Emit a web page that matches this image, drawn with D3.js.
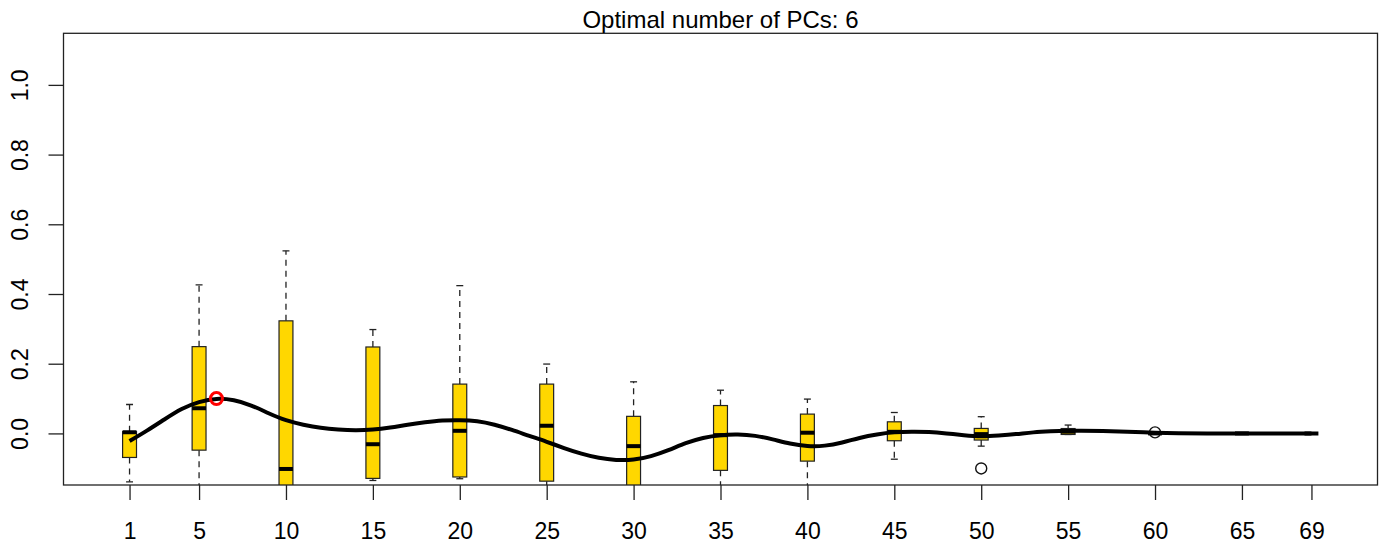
<!DOCTYPE html>
<html>
<head>
<meta charset="utf-8">
<script src="https://cdn.jsdelivr.net/npm/d3@7"></script>
<style>
body { margin: 0; background: #fff; }
text { font-family: "Liberation Sans", Arial, sans-serif; fill: #000; }
</style>
</head>
<body>
<script>
// box positions (number of PCs) and five-number summaries
var positions = [1, 5, 10, 15, 20, 25, 30, 35, 40, 45, 50, 55, 60, 65, 69];
var whiskLo = [-0.139, -0.2, -0.3, -0.135, -0.13, -0.17, -0.25, -0.17, -0.16, -0.074, -0.0365, -0.003, 0, 0, 0];
var q1      = [-0.069, -0.048, -0.2, -0.129, -0.125, -0.137, -0.18, -0.106, -0.0795, -0.021, -0.019, -0.003, 0, 0, 0];
var med     = [0.003, 0.072, -0.102, -0.031, 0.0075, 0.022, -0.0365, -0.005, 0.002, 0.0046, -0.002, 0.005, 0, 0, 0];
var q3      = [0.005, 0.249, 0.323, 0.248, 0.1415, 0.1415, 0.049, 0.080, 0.0554, 0.0333, 0.0143, 0.014, 0, 0, 0];
var whiskHi = [0.083, 0.426, 0.524, 0.298, 0.424, 0.199, 0.148, 0.124, 0.0985, 0.060, 0.048, 0.024, 0, 0, 0];

// outliers
var outX = [50, 60];
var outY = [-0.1005, 0.003];

// smoothed curve
var curveX = [1, 2, 3, 4, 5, 6, 7, 8, 9, 10, 11, 12, 13, 14, 15, 16, 17, 18, 19, 20,
              21, 22, 23, 24, 25, 26, 27, 28, 29, 30, 31, 32, 33, 34, 35, 36, 37, 38, 39, 40,
              41, 42, 43, 44, 45, 46, 47, 48, 49, 50, 51, 52, 53, 54, 55, 57, 60, 63, 66, 69];
var curveY = [-0.022, 0.008, 0.04, 0.07, 0.09, 0.099, 0.095, 0.08, 0.058, 0.038, 0.025, 0.016, 0.011, 0.009, 0.011, 0.017, 0.025, 0.032, 0.037, 0.038,
              0.035, 0.025, 0.01, -0.007, -0.024, -0.042, -0.058, -0.07, -0.076, -0.075, -0.065, -0.048, -0.028, -0.013, -0.005, -0.003, -0.007, -0.017, -0.029, -0.036,
              -0.035, -0.026, -0.013, -0.003, 0.003, 0.005, 0.004, 0.0, -0.005, -0.008, -0.006, -0.002, 0.003, 0.006, 0.0075, 0.007, 0.002, 0.0, 0.0, 0.0];

// optimum
var optX = [6];
var optY = [0.1];

var xTicks = [1, 5, 10, 15, 20, 25, 30, 35, 40, 45, 50, 55, 60, 65, 69];
var yTicks = [0, 0.2, 0.4, 0.6, 0.8, 1.0];
var title = "Optimal number of PCs: 6";

var width = 1385, height = 548;
var pLeft = 63.5, pRight = 1377.5, pTop = 33.3, pBottom = 485;

var x = d3.scaleLinear().domain([-2.8, 72.8]).range([pLeft, pRight]);
var y = d3.scaleLinear().domain([-0.148, 1.148]).range([pBottom, pTop]);

var boxW = x(0.8) - x(0),
    capW = x(0.4) - x(0);

var boxes = positions.map(function(p, i) {
  return {at: p, lo: whiskLo[i], q1: q1[i], med: med[i], q3: q3[i], hi: whiskHi[i]};
});

var svg = d3.select('body')
            .append('svg')
            .attr('width', width)
            .attr('height', height);

svg.append('clipPath')
   .attr('id', 'plotclip')
   .append('rect')
   .attr('x', pLeft)
   .attr('y', pTop)
   .attr('width', pRight - pLeft)
   .attr('height', pBottom - pTop);

var plot = svg.append('g').attr('clip-path', 'url(#plotclip)');

var bx = plot.selectAll('g.box')
   .data(boxes)
   .enter()
   .append('g')
   .attr('class', 'box');

// whiskers
bx.append('line')
  .attr('x1', function(d){ return x(d.at); })
  .attr('x2', function(d){ return x(d.at); })
  .attr('y1', function(d){ return y(d.q3); })
  .attr('y2', function(d){ return y(d.hi); })
  .attr('stroke', '#222')
  .attr('stroke-width', 1.3)
  .attr('stroke-dasharray', '6,5');

bx.append('line')
  .attr('x1', function(d){ return x(d.at); })
  .attr('x2', function(d){ return x(d.at); })
  .attr('y1', function(d){ return y(d.q1); })
  .attr('y2', function(d){ return y(d.lo); })
  .attr('stroke', '#222')
  .attr('stroke-width', 1.3)
  .attr('stroke-dasharray', '6,5');

// staples
['hi', 'lo'].forEach(function(k) {
  bx.append('line')
    .attr('x1', function(d){ return x(d.at) - capW / 2; })
    .attr('x2', function(d){ return x(d.at) + capW / 2; })
    .attr('y1', function(d){ return y(d[k]); })
    .attr('y2', function(d){ return y(d[k]); })
    .attr('stroke', '#222')
    .attr('stroke-width', 1.3);
});

// boxes
bx.append('rect')
  .attr('x', function(d){ return x(d.at) - boxW / 2; })
  .attr('y', function(d){ return y(d.q3); })
  .attr('width', boxW)
  .attr('height', function(d){ return y(d.q1) - y(d.q3); })
  .attr('fill', '#FFD700')
  .attr('stroke', '#222')
  .attr('stroke-width', 1.2);

// medians
bx.append('line')
  .attr('x1', function(d){ return x(d.at) - boxW / 2; })
  .attr('x2', function(d){ return x(d.at) + boxW / 2; })
  .attr('y1', function(d){ return y(d.med); })
  .attr('y2', function(d){ return y(d.med); })
  .attr('stroke', '#000')
  .attr('stroke-width', 4);

// outliers
plot.selectAll('circle.out')
    .data(outX)
    .enter()
    .append('circle')
    .attr('class', 'out')
    .attr('cx', function(d){ return x(d); })
    .attr('cy', function(d, i){ return y(outY[i]); })
    .attr('r', 5.5)
    .attr('fill', 'none')
    .attr('stroke', '#111')
    .attr('stroke-width', 1.4);

// smooth curve
var line = d3.line()
  .x(function(d){ return x(d[0]); })
  .y(function(d){ return y(d[1]); })
  .curve(d3.curveNatural);

plot.append('path')
    .datum(curveX.map(function(v, i){ return [v, curveY[i]]; }))
    .attr('d', line)
    .attr('fill', 'none')
    .attr('stroke', '#000')
    .attr('stroke-width', 4);

// optimum point
plot.selectAll('circle.opt')
    .data(optX)
    .enter()
    .append('circle')
    .attr('class', 'opt')
    .attr('cx', function(d){ return x(d); })
    .attr('cy', function(d, i){ return y(optY[i]); })
    .attr('r', 6)
    .attr('fill', 'none')
    .attr('stroke', '#FF0000')
    .attr('stroke-width', 3);

// frame
svg.append('rect')
   .attr('x', pLeft)
   .attr('y', pTop)
   .attr('width', pRight - pLeft)
   .attr('height', pBottom - pTop)
   .attr('fill', 'none')
   .attr('stroke', '#222')
   .attr('stroke-width', 1.3);

// axes
var xAxis = d3.axisBottom(x)
  .tickValues(xTicks)
  .tickSize(15)
  .tickSizeOuter(0)
  .tickFormat(d3.format('d'));

var gx = svg.append('g')
   .attr('transform', 'translate(0,' + pBottom + ')')
   .call(xAxis);
gx.select('.domain').remove();
gx.selectAll('.tick line').attr('stroke', '#222').attr('stroke-width', 1.3);
gx.selectAll('.tick text')
  .attr('dy', null)
  .attr('y', 54)
  .attr('font-size', '23px')
  .attr('font-family', '"Liberation Sans", Arial, sans-serif');

var yAxis = d3.axisLeft(y)
  .tickValues(yTicks)
  .tickSize(15)
  .tickSizeOuter(0)
  .tickFormat(d3.format('.1f'));

var gy = svg.append('g')
   .attr('transform', 'translate(' + pLeft + ',0)')
   .call(yAxis);
gy.select('.domain').remove();
gy.selectAll('.tick line').attr('stroke', '#222').attr('stroke-width', 1.3);
gy.selectAll('.tick text')
  .attr('x', null)
  .attr('dy', null)
  .attr('text-anchor', 'middle')
  .attr('transform', 'translate(-36,0) rotate(-90)')
  .attr('font-size', '23px')
  .attr('font-family', '"Liberation Sans", Arial, sans-serif');

// title
svg.append('text')
   .attr('x', (pLeft + pRight) / 2)
   .attr('y', 28)
   .attr('text-anchor', 'middle')
   .attr('font-size', '24px')
   .text(title);
</script>
</body>
</html>
